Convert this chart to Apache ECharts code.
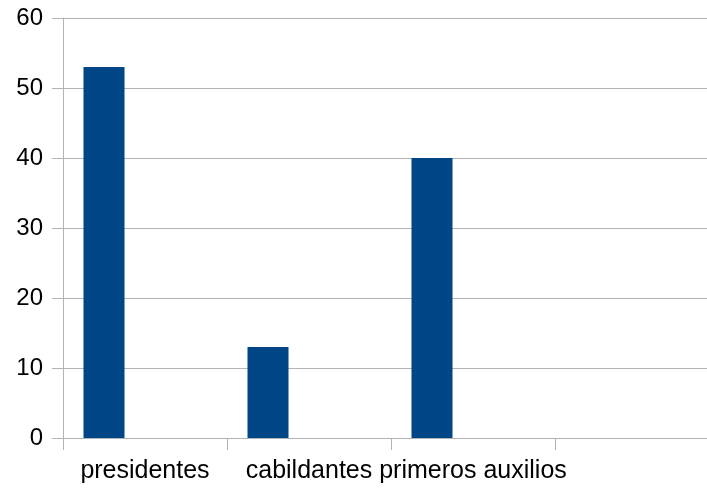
<!DOCTYPE html>
<html><head><meta charset="utf-8">
<script src="https://cdn.jsdelivr.net/npm/echarts@6/dist/echarts.min.js"></script>
<style>html,body{margin:0;padding:0;background:#fff;overflow:hidden;width:707px;height:489px}#c{width:719px;height:489px}</style>
</head><body><div id="c"></div>
<script>
const categories = ["presidentes", "cabildantes", "primeros auxilios", ""];
const values = [53, 13, 40, null];
const emptyA = [null, null, null, null];
const emptyB = [null, null, null, null];
const yTicks = [0, 10, 20, 30, 40, 50, 60];

const chart = echarts.init(document.getElementById('c'));
const grey = '#b3b3b3';
chart.setOption({
  animation: false,
  grid: {left: 63, right: 0, top: 18, bottom: 51, containLabel: false},
  xAxis: {
    type: 'category', data: categories,
    axisLine: {lineStyle: {color: grey, width: 1}},
    axisTick: {show: true, alignWithLabel: false, length: 12, lineStyle: {color: grey}},
    axisLabel: {color: '#000', fontFamily: 'Liberation Sans', fontSize: 25, margin: 21, interval: 0}
  },
  yAxis: {
    type: 'value', min: 0, max: 60, interval: 10,
    axisLine: {show: true, lineStyle: {color: grey, width: 1}},
    axisTick: {show: true, length: 11, lineStyle: {color: grey}},
    splitLine: {lineStyle: {color: grey, width: 1}},
    axisLabel: {color: '#000', fontFamily: 'Liberation Sans', fontSize: 24, margin: 20,
      formatter: v => yTicks.includes(v) ? String(v) : ''}
  },
  series: [
    {type: 'bar', data: values, barWidth: 41, barGap: '0%', barCategoryGap: '25%', itemStyle: {color: '#004586'}},
    {type: 'bar', data: emptyA, barWidth: 41, itemStyle: {color: '#ff420e'}},
    {type: 'bar', data: emptyB, barWidth: 41, itemStyle: {color: '#ffd320'}}
  ]
});
</script></body></html>
